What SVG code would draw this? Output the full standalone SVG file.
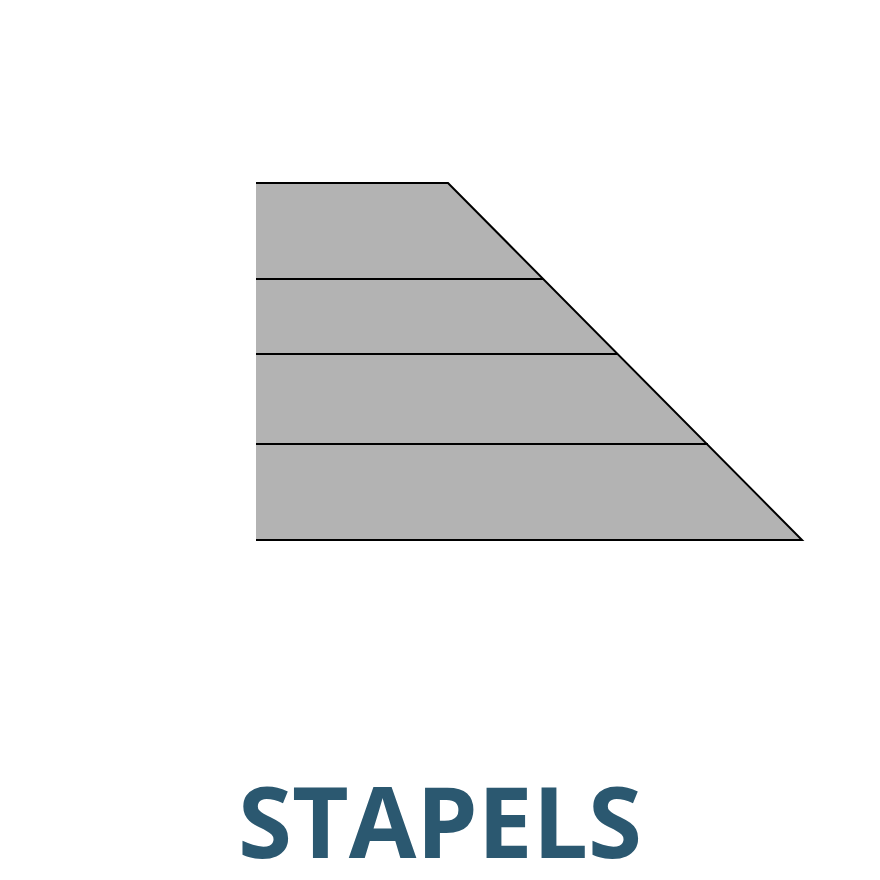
<svg xmlns="http://www.w3.org/2000/svg" width="880" height="880" viewBox="0 0 880 880">
<style>
.edge{stroke:#000;stroke-width:2;fill:none;stroke-linecap:butt}
.title{font-family:"Open Sans","Liberation Sans",sans-serif;font-weight:700;font-size:98px;fill:#2b5870}
</style>
<rect width="880" height="880" fill="#fff"/>
<g id="stack">
<polygon points="256,183 448,183 802,540 256,540" fill="#b3b3b3"/>
<path class="edge" d="M256,183 H448 L802,540 H256"/>
<path class="edge" d="M256,279 H543"/>
<path class="edge" d="M256,354 H617"/>
<path class="edge" d="M256,444 H708"/>
</g>
<g id="label">
<text class="title" x="440" y="858" text-anchor="middle">STAPELS</text>
</g>
</svg>
